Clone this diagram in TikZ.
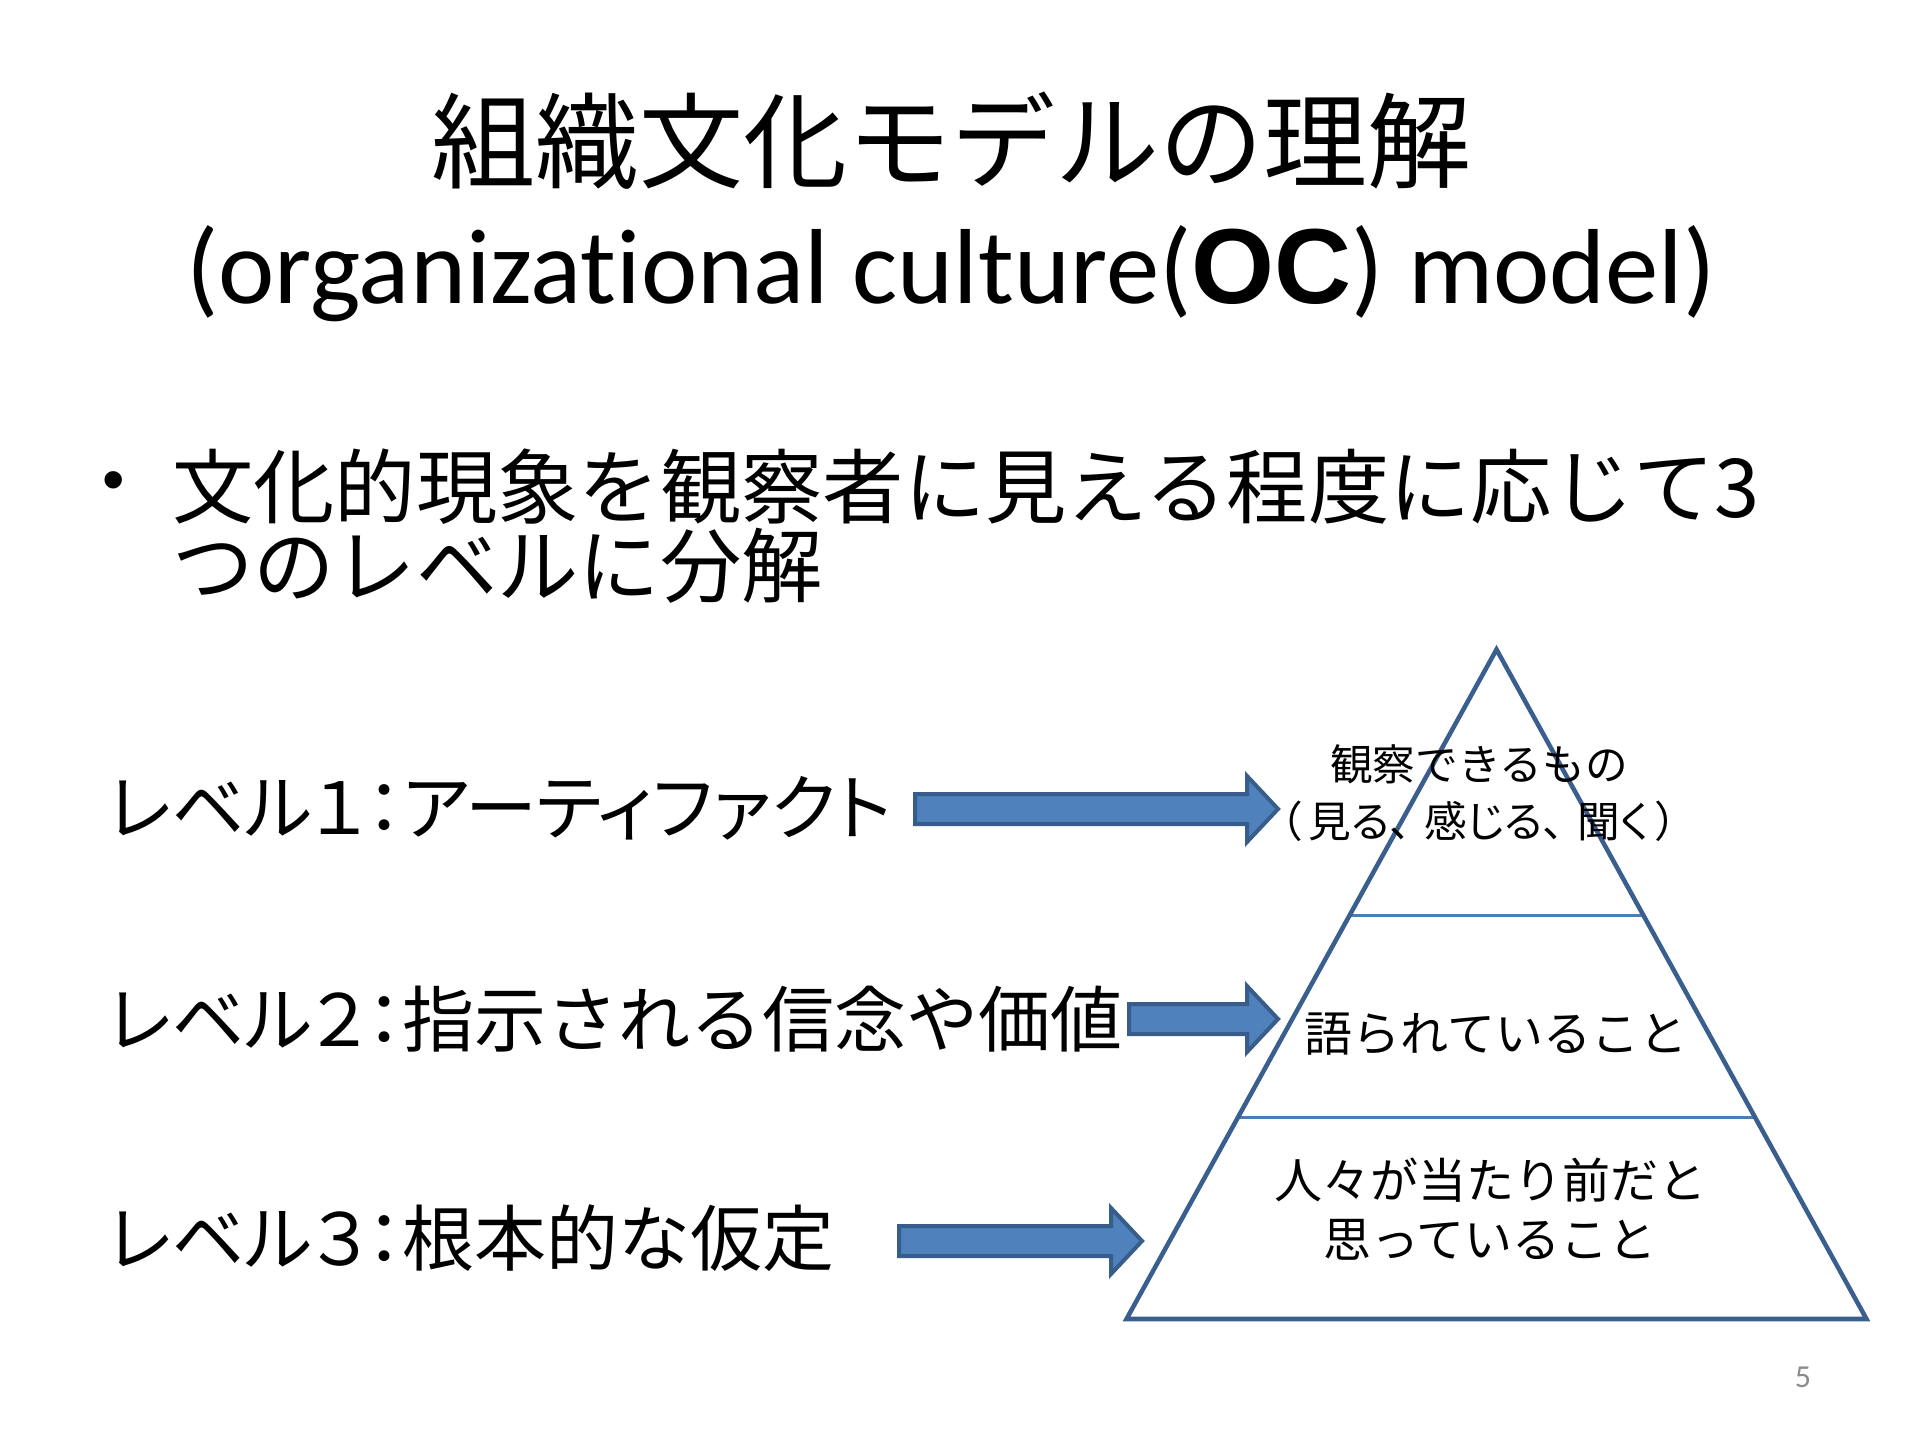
\documentclass[tikz,border=0pt]{standalone}
\usepackage{fontspec}
\setmainfont{Carlito}[Ligatures=NoCommon]
\newfontfamily\jp{Noto Sans CJK JP}
\newfontfamily\jpp{Noto Sans CJK JP}[RawFeature=+palt]
\newfontfamily\arialf{Liberation Sans}
\usetikzlibrary{calc}
\definecolor{arrowfill}{HTML}{4F81BD}
\definecolor{arrowedge}{HTML}{385D8A}
\definecolor{pyredge}{HTML}{3A5F8E}
\definecolor{pyrline}{HTML}{4A7EBB}
\definecolor{pagegray}{HTML}{8C8C8C}
\tikzset{
  txt/.style={inner sep=0pt, outer sep=0pt},
  barrow/.style={fill=arrowfill, draw=arrowedge, line width=1.5pt, line join=miter},
  pyr/.style={draw=pyredge, line width=1.7pt, line join=miter},
  divider/.style={draw=pyrline, line width=1.1pt},
  lvl/.style={txt, anchor=west, font=\fontsize{27}{32}\selectfont\jpp},
}
\begin{document}
\begin{tikzpicture}[x=0.375pt, y=-0.375pt]
\useasboundingbox (0,0) rectangle (1920,1440);
\fill[white] (0,0) rectangle (1920,1440);

% title
\node[txt, font=\fontsize{39}{47}\selectfont\jp] (title) at (951,141) {組織文化モデルの理解};
\node[txt, font=\fontsize{40}{48}\selectfont] (subtitle) at (951,274) {(organizational culture({\arialf\bfseries OC}) model)};

% bullet
\node[txt, font=\fontsize{24}{28}\selectfont\arialf] (dot) at (114,487) {•};
\node[txt, anchor=west, align=left, font=\fontsize{30.5}{29.8}\selectfont\jp] (bullet) at (172,526)
  {文化的現象を観察者に見える程度に応じて3\\つのレベルに分解};

% level labels
\node[lvl] (lv1) at (108,808) {レベル１：アーティファクト};
\node[lvl] (lv2) at (108,1019) {レベル２：{\jp 指示される信念や価値}};
\node[lvl] (lv3) at (108,1238) {レベル３：{\jp 根本的な仮定}};

% pyramid
\coordinate (apex) at (1496.5,649.5);
\coordinate (bl) at (1126.5,1319);
\coordinate (br) at (1866.5,1319);
\draw[divider] ($(apex)!0.398!(bl)$) -- ($(apex)!0.398!(br)$);
\draw[divider] ($(apex)!0.699!(bl)$) -- ($(apex)!0.699!(br)$);
\draw[pyr] (apex) -- (bl) -- (br) -- cycle;

\node[txt, align=center, font=\fontsize{16}{21.6}\selectfont\jp] (p1) at (1479,793)
  {観察できるもの\\（\hspace{2pt}{\jpp 見る、\hspace{5pt}感じる、\hspace{5pt}聞く}\hspace{2pt}）};
\node[txt, font=\fontsize{18}{22}\selectfont\jp] (p2) at (1496,1034) {語られていること};
\node[txt, align=center, font=\fontsize{18}{22}\selectfont\jp] (p3) at (1490,1209)
  {人々が当たり前だと\\思っていること};

% block arrows
\coordinate (a1) at (915,809);
\coordinate (a2) at (1129,1019);
\coordinate (a3) at (899,1241);
\draw[barrow] (a1) ++(0,-15) -- ++(332,0) -- ++(0,-18) -- ++(31,33) -- ++(-31,33) -- ++(0,-18) -- ++(-332,0) -- cycle;
\draw[barrow] (a2) ++(0,-15) -- ++(118,0) -- ++(0,-18) -- ++(31,33) -- ++(-31,33) -- ++(0,-18) -- ++(-118,0) -- cycle;
\draw[barrow] (a3) ++(0,-15) -- ++(212,0) -- ++(0,-18) -- ++(31,33) -- ++(-31,33) -- ++(0,-18) -- ++(-212,0) -- cycle;

% page number
\node[txt, text=pagegray, font=\fontsize{12}{14}\selectfont] (page) at (1803,1377) {5};
\end{tikzpicture}
\end{document}
